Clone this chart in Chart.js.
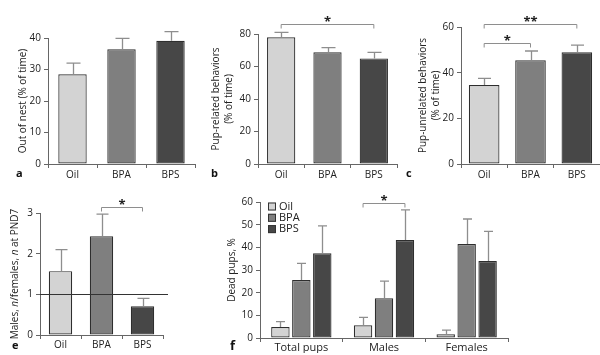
<!DOCTYPE html>
<html><head><meta charset="utf-8">
<script src="https://cdn.jsdelivr.net/npm/chart.js@4"></script>
<style>
html,body{margin:0;padding:0;background:#fff;overflow:hidden;width:600px;height:355px}
canvas{position:absolute;left:0;top:0}
</style></head><body>
<canvas id="pa" width="600" height="355"></canvas>
<canvas id="pb" width="600" height="355"></canvas>
<canvas id="pc" width="600" height="355"></canvas>
<canvas id="pe" width="600" height="355"></canvas>
<canvas id="pf" width="600" height="355"></canvas>
<script>
// ---------- data ----------
const groups = ['Oil', 'BPA', 'BPS'];
const outOfNest = [28.5, 36.4, 39.1];
const outOfNestErr = [32.0, 39.9, 42.0];
const pupRelated = [78, 68.7, 65];
const pupRelatedErr = [81, 71.6, 68.7];
const pupUnrelated = [34.6, 45.4, 48.9];
const pupUnrelatedErr = [37.5, 49.5, 52.1];
const sexRatio = [1.57, 2.43, 0.71];
const sexRatioErr = [2.1, 2.97, 0.9];
const deadGroups = ['Total pups', 'Males', 'Females'];
const deadOil = [4.85, 5.6, 1.6];
const deadOilErr = [7.2, 9.1, 3.5];
const deadBPA = [25.6, 17.5, 41.5];
const deadBPAErr = [32.9, 25.1, 52.5];
const deadBPS = [37.4, 43.2, 34];
const deadBPSErr = [49.5, 56.5, 47];

const ticksA = [0, 10, 20, 30, 40];
const ticksB = [0, 20, 40, 60, 80];
const ticksC = [0, 20, 40, 60];
const ticksE = [0, 1, 2, 3];
const ticksF = [0, 10, 20, 30, 40, 50, 60];

// significance brackets: [dataset1, index1, dataset2, index2, yValue, label]
const sigB = [[0, 0, 0, 2, 86.2, '*']];
const sigC = [[0, 0, 0, 1, 53, '*'], [0, 0, 0, 2, 61.3, '**']];
const sigE = [[0, 1, 0, 2, 3.15, '*']];
const sigF = [[0, 1, 2, 1, 59.6, '*']];

const colors = ['#d3d3d3', '#7f7f7f', '#474747'];
const FONT = "'Open Sans', 'Noto Sans', sans-serif";
const TXT = '#222';
const AX = '#666';

// ---------- plugin ----------
const panelPlugin = {
  id: 'panel',
  afterDatasetsDraw(chart, args, o) {
    const ctx = chart.ctx;
    const ys = chart.scales.y;
    const ca = chart.chartArea;
    ctx.save();
    if (o.refLine !== undefined) {
      const py = Math.round(ys.getPixelForValue(o.refLine)) + 0.5;
      ctx.strokeStyle = '#333'; ctx.lineWidth = 1;
      ctx.beginPath(); ctx.moveTo(ca.left, py); ctx.lineTo(ca.right + 5, py); ctx.stroke();
    }
    (o.err || []).forEach((arr, d) => {
      const meta = chart.getDatasetMeta(d);
      meta.data.forEach((bar, i) => {
        const top = ys.getPixelForValue(chart.data.datasets[d].data[i]);
        const e = ys.getPixelForValue(arr[i]);
        const x = Math.round(bar.x) + 0.5;
        ctx.strokeStyle = '#8e8e8e'; ctx.lineWidth = 1.3;
        ctx.beginPath();
        ctx.moveTo(x, top); ctx.lineTo(x, e);
        ctx.moveTo(x - o.cap / 2, e); ctx.lineTo(x + o.cap / 2, e);
        ctx.stroke();
      });
    });
    (o.sig || []).forEach(([d1, i1, d2, i2, v, label]) => {
      const x1 = chart.getDatasetMeta(d1).data[i1].x;
      const x2 = chart.getDatasetMeta(d2).data[i2].x;
      const py = Math.round(ys.getPixelForValue(v)) + 0.5;
      ctx.strokeStyle = '#8e8e8e'; ctx.lineWidth = 1;
      ctx.beginPath();
      ctx.moveTo(x1, py + 4); ctx.lineTo(x1, py); ctx.lineTo(x2, py); ctx.lineTo(x2, py + 4);
      ctx.stroke();
      ctx.fillStyle = TXT; ctx.font = 'bold 13px ' + FONT;
      ctx.textAlign = 'center'; ctx.textBaseline = 'alphabetic';
      ctx.fillText(label, (x1 + x2) / 2, py + 1.5);
    });
    if (o.legend) {
      ctx.font = '11px ' + FONT; ctx.textAlign = 'left'; ctx.textBaseline = 'middle';
      chart.data.datasets.forEach((ds, k) => {
        const cy = ca.top + 4.5 + k * 11.3;
        ctx.fillStyle = ds.backgroundColor;
        ctx.fillRect(ca.left + 8, cy - 4, 8, 8);
        ctx.strokeStyle = '#333'; ctx.lineWidth = 1;
        ctx.strokeRect(ca.left + 8.5, cy - 3.5, 7, 7);
        ctx.fillStyle = TXT;
        ctx.fillText(ds.label, ca.left + 19, cy);
      });
    }
    if (o.yTitle) {
      const segs = o.yTitle.segs;
      let total = 0;
      segs.forEach(s => { ctx.font = (s.italic ? 'italic ' : '') + '10px ' + FONT; s.w = ctx.measureText(s.t).width; total += s.w; });
      ctx.translate(o.yTitle.x, (ca.top + ca.bottom) / 2);
      ctx.rotate(-Math.PI / 2);
      ctx.fillStyle = TXT; ctx.textAlign = 'left'; ctx.textBaseline = 'middle';
      let x = -total / 2;
      segs.forEach(s => { ctx.font = (s.italic ? 'italic ' : '') + '10px ' + FONT; ctx.fillText(s.t, x, 0); x += s.w; });
      ctx.setTransform(1, 0, 0, 1, 0, 0);
    }
    if (o.letter) {
      ctx.fillStyle = '#111'; ctx.font = 'bold ' + (o.letter.size || 11) + 'px ' + FONT;
      ctx.textAlign = 'left'; ctx.textBaseline = 'alphabetic';
      ctx.fillText(o.letter.t, o.letter.x, o.letter.y);
    }
    ctx.restore();
  }
};

function makePanel(id, cfg) {
  const [l, r, t, b] = cfg.area;
  new Chart(document.getElementById(id), {
    type: 'bar',
    data: { labels: cfg.labels, datasets: cfg.datasets },
    options: {
      responsive: false, animation: false, devicePixelRatio: 1,
      layout: { padding: { left: l - cfg.yw, right: 600 - r, top: t, bottom: 355 - b - 15 } },
      plugins: { legend: { display: false }, tooltip: { enabled: false }, panel: cfg.panel },
      scales: {
        x: {
          grid: { display: true, drawOnChartArea: false, offset: true, tickLength: 4, color: AX },
          border: { color: AX, width: 1 },
          ticks: { font: { family: FONT, size: cfg.xfs || 10 }, color: TXT, padding: cfg.xpad !== undefined ? cfg.xpad : 1, maxRotation: 0 },
          afterFit: s => { s.height = 15; }
        },
        y: {
          min: cfg.ticks[0], max: cfg.ticks[cfg.ticks.length - 1],
          afterBuildTicks: s => { s.ticks = cfg.ticks.map(v => ({ value: v })); },
          grid: { drawOnChartArea: false, tickLength: 4, color: AX },
          border: { color: AX, width: 1 },
          ticks: { font: { family: FONT, size: 10 }, color: TXT, padding: 3 },
          title: cfg.ytitle ? { display: true, text: cfg.ytitle, color: TXT, padding: 0,
                   font: { family: FONT, size: 10, lineHeight: 1.3 } } : { display: false },
          afterFit: s => { s.width = cfg.yw; }
        }
      }
    },
    plugins: [panelPlugin]
  });
}

function single(values, pct) {
  return [{ data: values, backgroundColor: colors, borderColor: '#2e2e2e', borderWidth: 1.2,
            borderSkipped: false, barPercentage: pct, categoryPercentage: 1 }];
}

makePanel('pa', {
  labels: groups, datasets: single(outOfNest, 0.58), ticks: ticksA,
  area: [48, 195, 38, 164], yw: 31, ytitle: 'Out of nest (% of time)',
  panel: { err: [outOfNestErr], cap: 14, letter: { t: 'a', x: 16, y: 177 } }
});
makePanel('pb', {
  labels: groups, datasets: single(pupRelated, 0.61), ticks: ticksB,
  area: [258, 397, 34, 164], yw: 48.5, ytitle: ['Pup-related behaviors', '(% of time)'],
  panel: { err: [pupRelatedErr], cap: 14, sig: sigB, letter: { t: 'b', x: 211, y: 177 } }
});
makePanel('pc', {
  labels: groups, datasets: single(pupUnrelated, 0.66), ticks: ticksC,
  area: [461, 600, 27, 164], yw: 44.5, ytitle: ['Pup-unrelated behaviors', '(% of time)'],
  panel: { err: [pupUnrelatedErr], cap: 13, sig: sigC, letter: { t: 'c', x: 406, y: 177 } }
});
makePanel('pe', {
  labels: groups, datasets: single(sexRatio, 0.57), ticks: ticksE, xpad: 0,
  area: [40, 163, 213, 335], yw: 30,
  panel: { err: [sexRatioErr], cap: 12, sig: sigE, refLine: 1,
           yTitle: { x: 15, segs: [{ t: 'Males, ' }, { t: 'n', italic: true }, { t: '/females, ' }, { t: 'n', italic: true }, { t: ' at PND7' }] },
           letter: { t: 'e', x: 12, y: 349 } }
});
makePanel('pf', {
  labels: deadGroups, xfs: 11, xpad: -1, ticks: ticksF,
  datasets: [
    { label: 'Oil', data: deadOil, backgroundColor: colors[0] },
    { label: 'BPA', data: deadBPA, backgroundColor: colors[1] },
    { label: 'BPS', data: deadBPS, backgroundColor: colors[2] }
  ].map(d => Object.assign(d, { borderColor: '#2e2e2e', borderWidth: 1.2, borderSkipped: false,
                                barPercentage: 0.88, categoryPercentage: 0.76 })),
  area: [260, 508, 202, 338], yw: 34, ytitle: 'Dead pups, %',
  panel: { err: [deadOilErr, deadBPAErr, deadBPSErr], cap: 9, sig: sigF, legend: true,
           letter: { t: 'f', x: 230, y: 350, size: 13 } }
});
</script>
</body></html>
